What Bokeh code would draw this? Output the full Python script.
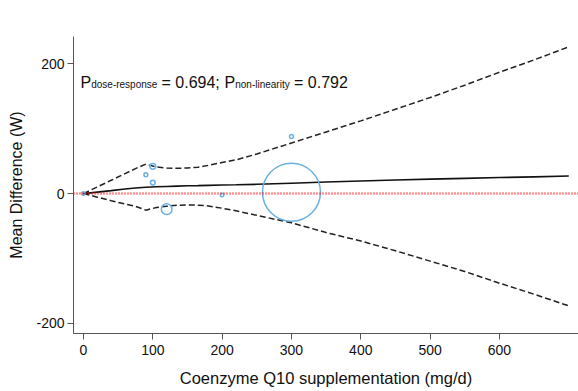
from bokeh.plotting import figure
from bokeh.models import Range1d, FixedTicker, Label, Span, ColumnDataSource
from bokeh.embed import file_html
from bokeh.resources import INLINE
import numpy as np

# Pooled dose-response curve (mean difference in W) with 95% CI
dose = [0, 20, 40, 60, 75, 90, 105, 120, 135, 150, 165, 180, 200, 220,
        250, 300, 350, 400, 450, 500, 550, 600, 650, 700]
estimate = [0, 2.3, 4.6, 7.0, 8.7, 9.8, 10.5, 11.0, 11.5, 12.0, 12.3, 12.7,
            13.2, 13.6, 14.3, 16.0, 17.8, 19.5, 21.0, 22.3, 23.5, 24.7, 25.8, 27.0]
upper = [0, 10.3, 20.5, 30.8, 38.5, 45.5, 41.0, 39.5, 39.0, 39.5, 40.5, 43.5,
         48.0, 52.0, 61.0, 78.0, 95.0, 112.0, 130.0, 148.0, 167.0, 187.0, 206.0, 226.0]
lower = [0, -5.5, -11.0, -16.0, -19.5, -25.5, -21.5, -19.5, -18.0, -17.5, -17.8, -19.0,
         -22.5, -26.5, -33.5, -45.0, -60.0, -73.0, -88.0, -104.0, -120.0, -138.0, -155.0, -173.0]

# Study-level observations, bubble area proportional to weight
study_dose = [0, 90, 100, 100, 120, 200, 300, 300]
study_md = [0, 29, 17, 42, -24, -2, 2, 88]
study_weight = [0.3, 0.4, 0.6, 0.9, 3.0, 0.3, 88.0, 0.4]

x_ticks = [0, 100, 200, 300, 400, 500, 600]
y_ticks = [-200, 0, 200]
y_tick_labels = {-200: "-200", 0: "0", 200: "200"}

title_text = "Mean Power"
x_title = "Coenzyme Q10 supplementation (mg/d)"
y_title = "Mean Difference (W)"
p_dose = "0.694"
p_nonlin = "0.792"

FONT = "Liberation Sans"
LEFT, BOTTOM, TOP = 73, 58, 36
H = 391

p = figure(width=578, height=H, output_backend="svg", toolbar_location=None,
           x_range=Range1d(-14.4, 714), y_range=Range1d(-215.5, 242),
           min_border_left=LEFT, min_border_right=0, min_border_top=TOP,
           min_border_bottom=BOTTOM)
p.title.visible = False
p.outline_line_color = None
p.grid.visible = False
p.background_fill_color = "white"
p.border_fill_color = "white"

for ax, ticks in ((p.xaxis, x_ticks), (p.yaxis, y_ticks)):
    ax.ticker = FixedTicker(ticks=ticks)
    ax.minor_tick_line_color = None
    ax.axis_line_color = "#555555"
    ax.major_tick_line_color = "#555555"
    ax.major_tick_out = 6
    ax.major_tick_in = 0
    ax.major_label_text_font = FONT
    ax.major_label_text_font_size = "14px"
    ax.major_label_text_color = "#111111"
    ax.axis_label_text_font = FONT
    ax.axis_label_text_font_style = "normal"
    ax.axis_label_text_color = "#111111"

p.yaxis.major_label_overrides = y_tick_labels
p.xaxis.axis_label = x_title
p.xaxis.axis_label_text_font_size = "16.5px"
p.xaxis.major_label_standoff = 5
p.xaxis.axis_label_standoff = 11
p.yaxis.axis_label = y_title
p.yaxis.axis_label_text_font_size = "16px"
p.yaxis.major_label_standoff = 3
p.yaxis.axis_label_standoff = 8

# reference line at zero
p.add_layout(Span(location=0, dimension="width", line_color="#ff0000",
                  line_alpha=0.85, line_width=2.5, line_dash="1 2"))

curve = ColumnDataSource(dict(x=dose, est=estimate, lo=lower, hi=upper))
p.line("x", "hi", source=curve, line_color="#222222", line_width=1.5, line_dash="6 3")
p.line("x", "lo", source=curve, line_color="#222222", line_width=1.5, line_dash="6 3")
p.line("x", "est", source=curve, line_color="#111111", line_width=1.6)

sizes = (6.18 * np.sqrt(np.array(study_weight))).clip(min=3.5)
pts = ColumnDataSource(dict(x=study_dose, y=study_md, s=sizes))
p.scatter("x", "y", size="s", source=pts, marker="circle", fill_alpha=0,
          line_color="#69b0e3", line_width=1.5)


def frame_label(cx, cy, text, size, **kw):
    """Place a label given canvas pixel coordinates (from the top-left)."""
    p.add_layout(Label(x=cx - LEFT, y=(H - BOTTOM) - cy, x_units="screen",
                       y_units="screen", text=text, text_font=FONT,
                       text_font_size=size, text_color="#111111", **kw))


# title and p-value annotation
frame_label(325.5, 20, title_text, "20px", text_align="center", text_baseline="middle")

base = 82
parts = [
    (80, "P", "16px", 0),
    (90.7, "dose-response", "10px", 2),
    (161, "= " + p_dose + ";", "16px", 0),
    (224, "P", "16px", 0),
    (234.7, "non-linearity", "10px", 2),
    (293.5, "= " + p_nonlin, "16px", 0),
]
for xs, txt, fs, dy in parts:
    frame_label(xs, base + dy, txt, fs, text_align="left", text_baseline="alphabetic")

open("out.html", "w").write(file_html(p, INLINE))
